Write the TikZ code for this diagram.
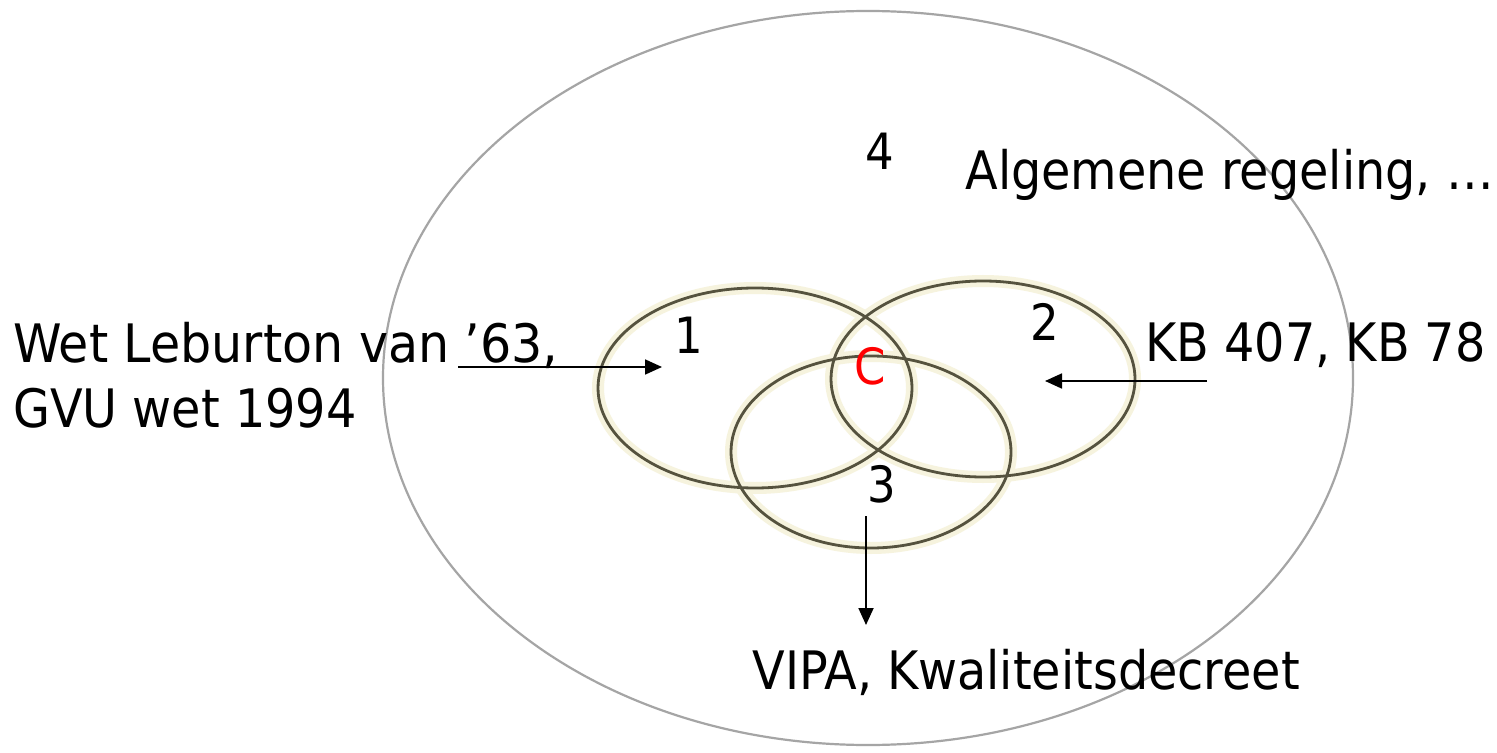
\documentclass[tikz,border=0pt]{standalone}
\usepackage{fontspec}
\setmainfont{DejaVu Sans Condensed}
\usetikzlibrary{arrows.meta}
\definecolor{ringcol}{RGB}{85,82,62}
\definecolor{halocol}{RGB}{246,243,222}
\definecolor{outercol}{RGB}{165,165,165}
\tikzset{
  lbl/.style={inner sep=0pt, anchor=base west, font=\fontsize{26.5pt}{30pt}\selectfont},
  num/.style={inner sep=0pt, anchor=center, font=\fontsize{25pt}{28pt}\selectfont},
  ring/.style={draw=ringcol, line width=1.4pt},
  halo/.style={draw=halocol, line width=6pt},
  outer/.style={draw=outercol, line width=1.1pt},
  arr/.style={-{Triangle[length=8.5pt,width=7.5pt]}, line width=0.9pt, black}
}
\begin{document}
\begin{tikzpicture}[x=0.5pt,y=-0.5pt]
\useasboundingbox[fill=white] (0,0) rectangle (1497,753);
% outer ellipse
\draw[outer] (868,378) ellipse [x radius=242.5pt, y radius=183.5pt];
% halos
\draw[halo] (755,388) ellipse [x radius=78.5pt, y radius=50pt];
\draw[halo] (983,379) ellipse [x radius=76pt, y radius=49pt];
\draw[halo] (871,452) ellipse [x radius=70pt, y radius=48pt];
% rings
\draw[ring] (755,388) ellipse [x radius=78.5pt, y radius=50pt];
\draw[ring] (983,379) ellipse [x radius=76pt, y radius=49pt];
\draw[ring] (871,452) ellipse [x radius=70pt, y radius=48pt];
% numbers
\node[num] (n1) at (689,335) {1};
\node[num] (n2) at (1045,322) {2};
\node[num] (n3) at (882,484) {3};
\node[num] (n4) at (880,151) {4};
\node[num, text=red] (nc) at (870,366) {C};
% labels
\node[lbl] (t1) at (13,362) {\scalebox{1.03}[1]{Wet Leburton van ’63,}};
\node[lbl] (t1b) at (13,427) {GVU wet 1994};
\node[lbl] (t2) at (1145,361) {KB 407, KB 78};
\node[lbl] (t4) at (965,190) {Algemene regeling, …};
\node[lbl] (t3) at (752,689) {VIPA, Kwaliteitsdecreet};
% arrows
\coordinate (a1s) at (458,367); \coordinate (a1e) at (662,367);
\coordinate (a2s) at (1207,381); \coordinate (a2e) at (1045,381);
\coordinate (a3s) at (866,516); \coordinate (a3e) at (866,625);
\draw[arr] (a1s) -- (a1e);
\draw[arr] (a2s) -- (a2e);
\draw[arr] (a3s) -- (a3e);
\end{tikzpicture}
\end{document}
